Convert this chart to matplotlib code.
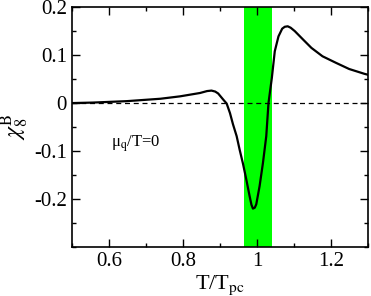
import numpy as np
import matplotlib.pyplot as plt
from matplotlib.ticker import MultipleLocator

# values
t_ratio = [0.50, 0.556, 0.648, 0.739, 0.792, 0.846, 0.865, 0.877, 0.887, 0.895,
           0.909, 0.918, 0.927, 0.935, 0.945, 0.953, 0.962, 0.971, 0.980, 0.985,
           0.989, 0.994, 0.998, 1.007, 1.016, 1.025, 1.031, 1.040, 1.048, 1.058,
           1.068, 1.075, 1.083, 1.091, 1.102, 1.125, 1.147, 1.177, 1.213, 1.249,
           1.290, 1.30]
chi8 = [0.0, 0.001, 0.004, 0.009, 0.014, 0.021, 0.025, 0.026, 0.024, 0.020,
        0.007, -0.001, -0.021, -0.044, -0.069, -0.097, -0.126, -0.159, -0.194, -0.212,
        -0.220, -0.218, -0.211, -0.173, -0.125, -0.069, 0.0, 0.052, 0.108, 0.139,
        0.155, 0.159, 0.160, 0.157, 0.150, 0.132, 0.115, 0.0975, 0.084, 0.071,
        0.061, 0.059]
band = (0.965, 1.04)

plt.rcParams["font.family"] = "Liberation Serif"
plt.rcParams["mathtext.fontset"] = "stix"

fig = plt.figure(figsize=(3.71, 2.96), dpi=100)
ax = fig.add_axes([0.194, 0.1655, 0.798, 0.8105])

ax.axvspan(band[0], band[1], color="#00ff00", lw=0)
ax.axhline(0, color="black", lw=0.9, ls=(0, (4, 3)))
ax.plot(t_ratio, chi8, color="black", lw=1.6, solid_joinstyle="round")

ax.set_xlim(0.5, 1.3)
ax.set_ylim(-0.3, 0.2)
ax.xaxis.set_minor_locator(MultipleLocator(0.1))
ax.yaxis.set_minor_locator(MultipleLocator(0.05))
ax.set_xticks([0.6, 0.8, 1.0, 1.2])
ax.set_xticklabels(["0.6", "0.8", "1", "1.2"])
ax.set_yticks([-0.2, -0.1, 0, 0.1, 0.2])
ax.set_yticklabels(["-0.2", "-0.1", "0", "0.1", "0.2"])
ax.tick_params(which="both", direction="in", top=True, right=True, labelsize=15, width=1)
ax.tick_params(which="major", length=6)
ax.tick_params(which="minor", length=3)
for s in ax.spines.values():
    s.set_linewidth(1.2)

ax.set_xlabel(r"T/T$_{\mathrm{pc}}$", fontsize=16, labelpad=2)
ax.set_ylabel(r"$\chi_8^{\mathrm{B}}$", fontsize=17, labelpad=2)
ax.text(0.605, -0.09, r"μ$_{\mathrm{q}}$/T=0", fontsize=12)

fig.savefig("out.png", dpi=100)
